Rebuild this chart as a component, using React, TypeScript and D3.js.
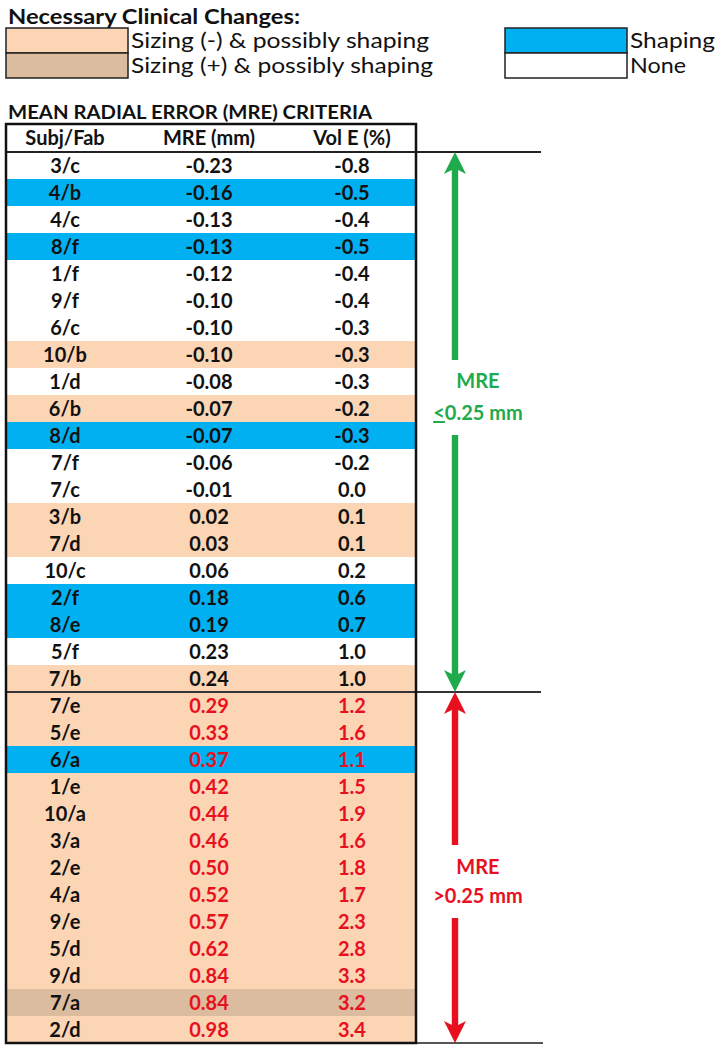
import React from 'react';
import * as d3 from 'd3';

// table rows, top to bottom
const subjFab = ['3/c', '4/b', '4/c', '8/f', '1/f', '9/f', '6/c', '10/b', '1/d', '6/b', '8/d', '7/f', '7/c', '3/b', '7/d', '10/c', '2/f', '8/e', '5/f', '7/b',
  '7/e', '5/e', '6/a', '1/e', '10/a', '3/a', '2/e', '4/a', '9/e', '5/d', '9/d', '7/a', '2/d'];
const mre = ['-0.23', '-0.16', '-0.13', '-0.13', '-0.12', '-0.10', '-0.10', '-0.10', '-0.08', '-0.07', '-0.07', '-0.06', '-0.01', '0.02', '0.03', '0.06', '0.18', '0.19', '0.23', '0.24',
  '0.29', '0.33', '0.37', '0.42', '0.44', '0.46', '0.50', '0.52', '0.57', '0.62', '0.84', '0.84', '0.98'];
const volE = ['-0.8', '-0.5', '-0.4', '-0.5', '-0.4', '-0.4', '-0.3', '-0.3', '-0.3', '-0.2', '-0.3', '-0.2', '0.0', '0.1', '0.1', '0.2', '0.6', '0.7', '1.0', '1.0',
  '1.2', '1.6', '1.1', '1.5', '1.9', '1.6', '1.8', '1.7', '2.3', '2.8', '3.3', '3.2', '3.4'];
// clinical change per row: n = none, s = shaping, m = sizing (-), p = sizing (+)
const change = ['n', 's', 'n', 's', 'n', 'n', 'n', 'm', 'n', 'm', 's', 'n', 'n', 'm', 'm', 'n', 's', 's', 'n', 'm',
  'm', 'm', 's', 'm', 'm', 'm', 'm', 'm', 'm', 'm', 'm', 'p', 'm'];
const columns = ['Subj/Fab', 'MRE (mm)', 'Vol E (%)'];
const legendKeys = ['m', 'p', 's', 'n'];
const legendLabels = ['Sizing (-) & possibly shaping', 'Sizing (+) & possibly shaping', 'Shaping', 'None'];
const threshold = 0.25;

const fillOf: Record<string, string> = { n: '#ffffff', s: '#00b0f0', m: '#fcd5b5', p: '#dbbc9e' };
const GREEN = '#1faa4b';
const RED = '#e8101e';
const FONT = 'Lato, "Open Sans", sans-serif';

export default function App() {
  const left = 6, right = 416, top = 124, headBottom = 152, bottom = 1043;
  const lineEnd = 541, arrowX = 455;

  const y = d3.scaleBand<number>().domain(d3.range(subjFab.length)).range([headBottom, bottom]);
  const colX = d3.scaleOrdinal<string, number>().domain(columns).range([65, 209, 352]);
  const split = mre.findIndex(v => +v > threshold);
  const splitY = y(split)!;

  const legX = d3.scaleOrdinal<string, number>().domain(legendKeys).range([6, 6, 505, 505]);
  const legY = d3.scaleOrdinal<string, number>().domain(legendKeys).range([28, 53, 28, 53]);
  const legW = [298, 302, 85, 56];

  const arrow = (y0: number, y1: number, gap0: number, gap1: number, color: string) => {
    const hw = 11, hl = 22, sw = 3.2;
    return (
      <g fill={color}>
        <path d={`M${arrowX},${y0} L${arrowX + hw},${y0 + hl} L${arrowX + sw},${y0 + hl - 4} L${arrowX + sw},${gap0} L${arrowX - sw},${gap0} L${arrowX - sw},${y0 + hl - 4} L${arrowX - hw},${y0 + hl} Z`} />
        <path d={`M${arrowX},${y1} L${arrowX + hw},${y1 - hl} L${arrowX + sw},${y1 - hl + 4} L${arrowX + sw},${gap1} L${arrowX - sw},${gap1} L${arrowX - sw},${y1 - hl + 4} L${arrowX - hw},${y1 - hl} Z`} />
      </g>
    );
  };

  return (
    <svg width={719} height={1050} style={{ position: 'absolute', left: 0, top: 0, background: '#fff' }} fontFamily={FONT}>
      {/* legend */}
      <text x={8} y={24} fontSize={21} fontWeight={700} fill="#111" textLength={292} lengthAdjust="spacingAndGlyphs">Necessary Clinical Changes:</text>
      {legendKeys.map((k, i) => (
        <g key={k}>
          <rect x={legX(k)} y={legY(k)} width={122} height={25} fill={fillOf[k]} stroke="#222" strokeWidth={1.5} />
          <text x={legX(k) + 125} y={legY(k) + 20} fontSize={22} fill="#111" textLength={legW[i]} lengthAdjust="spacingAndGlyphs">{legendLabels[i]}</text>
        </g>
      ))}

      <text x={8} y={119} fontSize={19} fontWeight={700} fill="#111" textLength={364} lengthAdjust="spacingAndGlyphs">MEAN RADIAL ERROR (MRE) CRITERIA</text>

      {/* rows */}
      {subjFab.map((s, i) => {
        const ry = y(i)!;
        const cy = ry + y.bandwidth() / 2 + 7;
        const over = i >= split;
        return (
          <g key={s + i} fontSize={20} fontWeight={700} textAnchor="middle">
            <rect x={left} y={ry} width={right - left} height={y.bandwidth()} fill={fillOf[change[i]]} />
            <text x={colX(columns[0])} y={cy} fill="#111">{s}</text>
            <text x={colX(columns[1])} y={cy} fill={over ? RED : '#111'}>{mre[i]}</text>
            <text x={colX(columns[2])} y={cy} fill={over ? RED : '#111'}>{volE[i]}</text>
          </g>
        );
      })}

      {/* header */}
      {columns.map(c => (
        <text key={c} x={colX(c)} y={145} fontSize={20} fontWeight={700} textAnchor="middle" fill="#111">{c}</text>
      ))}

      {/* lines */}
      <line x1={left} x2={lineEnd} y1={headBottom} y2={headBottom} stroke="#222" strokeWidth={2} />
      <line x1={left} x2={lineEnd} y1={splitY} y2={splitY} stroke="#333" strokeWidth={2} />
      <line x1={left} x2={lineEnd + 2} y1={bottom} y2={bottom} stroke="#555" strokeWidth={2} />
      <rect x={left} y={top} width={right - left} height={bottom - top} fill="none" stroke="#111" strokeWidth={2.5} />

      {/* arrows */}
      {arrow(headBottom, splitY, 360, 435, GREEN)}
      {arrow(splitY, bottom, 845, 918, RED)}

      <g fontSize={20} fontWeight={700} textAnchor="middle">
        <text x={478} y={388} fill={GREEN}>MRE</text>
        <text x={478} y={420} fill={GREEN}><tspan textDecoration="underline">{'<'}</tspan>0.25 mm</text>
        <text x={478} y={874} fill={RED}>MRE</text>
        <text x={478} y={903} fill={RED}>{'>0.25 mm'}</text>
      </g>
    </svg>
  );
}
